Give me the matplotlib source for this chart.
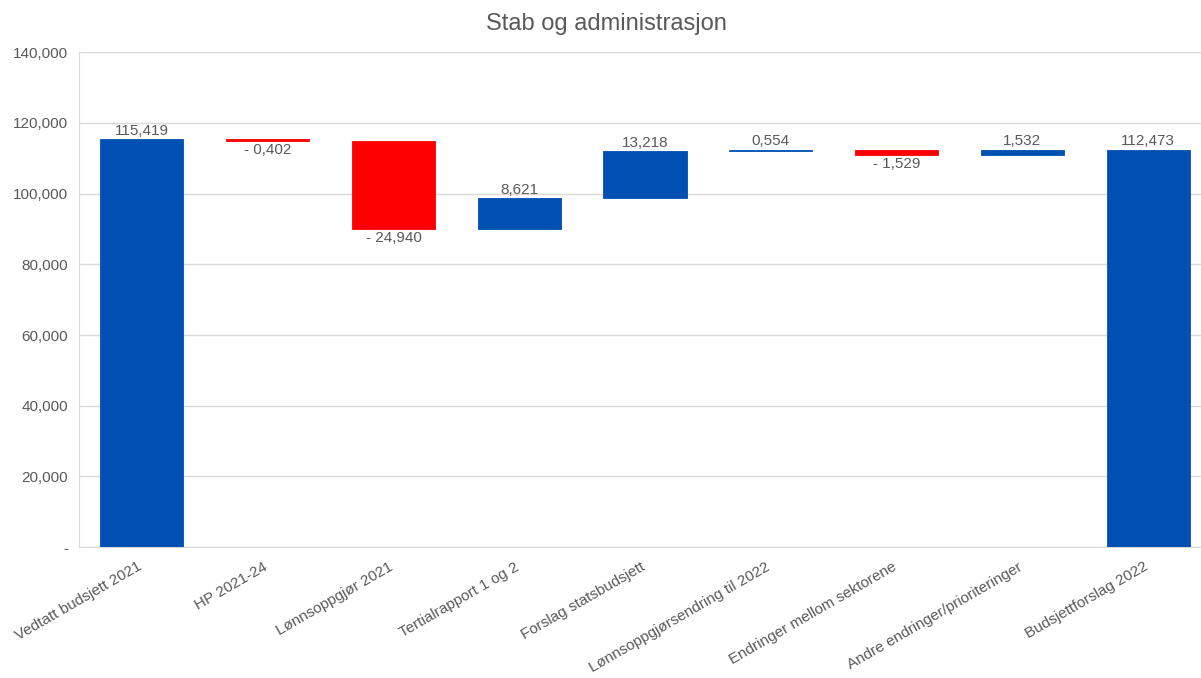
import numpy as np
import matplotlib.pyplot as plt

plt.rcParams['font.family'] = ['Liberation Sans', 'DejaVu Sans']

categories = ["Vedtatt budsjett 2021", "HP 2021-24", "Lønnsoppgjør 2021",
              "Tertialrapport 1 og 2", "Forslag statsbudsjett",
              "Lønnsoppgjørsendring til 2022", "Endringer mellom sektorene",
              "Andre endringer/prioriteringer", "Budsjettforslag 2022"]
changes = [115.419, -0.402, -24.940, 8.621, 13.218, 0.554, -1.529, 1.532, 112.473]
is_total = [True, False, False, False, False, False, False, False, True]

blue = "#0050b4"
red = "#ff0000"
grey = "#595959"

def fmt(v):
    s = f"{abs(v):.3f}".replace(".", ",")
    return "- " + s if v < 0 else s

fig = plt.figure(figsize=(12.01, 6.78), dpi=100)
ax = fig.add_axes([0.0658, 0.193, 0.9425, 0.730])

x = np.arange(len(categories))
running = 0.0
for i, (v, tot) in enumerate(zip(changes, is_total)):
    if tot:
        bottom, height = 0, v
        running = v
    else:
        bottom = running if v >= 0 else running + v
        height = abs(v)
        running += v
    color = red if v < 0 else blue
    ax.bar(x[i], height, bottom=bottom, width=0.66, color=color,
           edgecolor=color, linewidth=0.6, zorder=3)
    if v >= 0:
        ax.text(x[i], bottom + height + 0.3, fmt(v), ha="center", va="bottom",
                fontsize=11, color=grey)
    else:
        ax.text(x[i], bottom - 0.6, fmt(v), ha="center", va="top",
                fontsize=11, color=grey)

ax.set_ylim(0, 140)
ax.set_xlim(-0.5, len(categories) - 0.5)
yt = np.arange(0, 141, 20)
ax.set_yticks(yt)
ax.set_yticklabels(["-" if t == 0 else f"{t:.3f}".replace(".", ",") for t in yt],
                   fontsize=11, color=grey)
ax.set_xticks(x - 0.04)
ax.set_xticklabels(categories, rotation=30, ha="right", rotation_mode="anchor",
                   fontsize=11, color=grey)
ax.tick_params(axis="y", length=0, pad=8)
ax.tick_params(axis="x", length=0, pad=9)
ax.grid(axis="y", color="#d9d9d9", linewidth=1, zorder=0)
for s in ax.spines.values():
    s.set_color("#d9d9d9")

fig.text(0.505, 0.965, "Stab og administrasjon", fontsize=17, color=grey,
         ha="center", va="center")

fig.savefig("out.png", dpi=100)
